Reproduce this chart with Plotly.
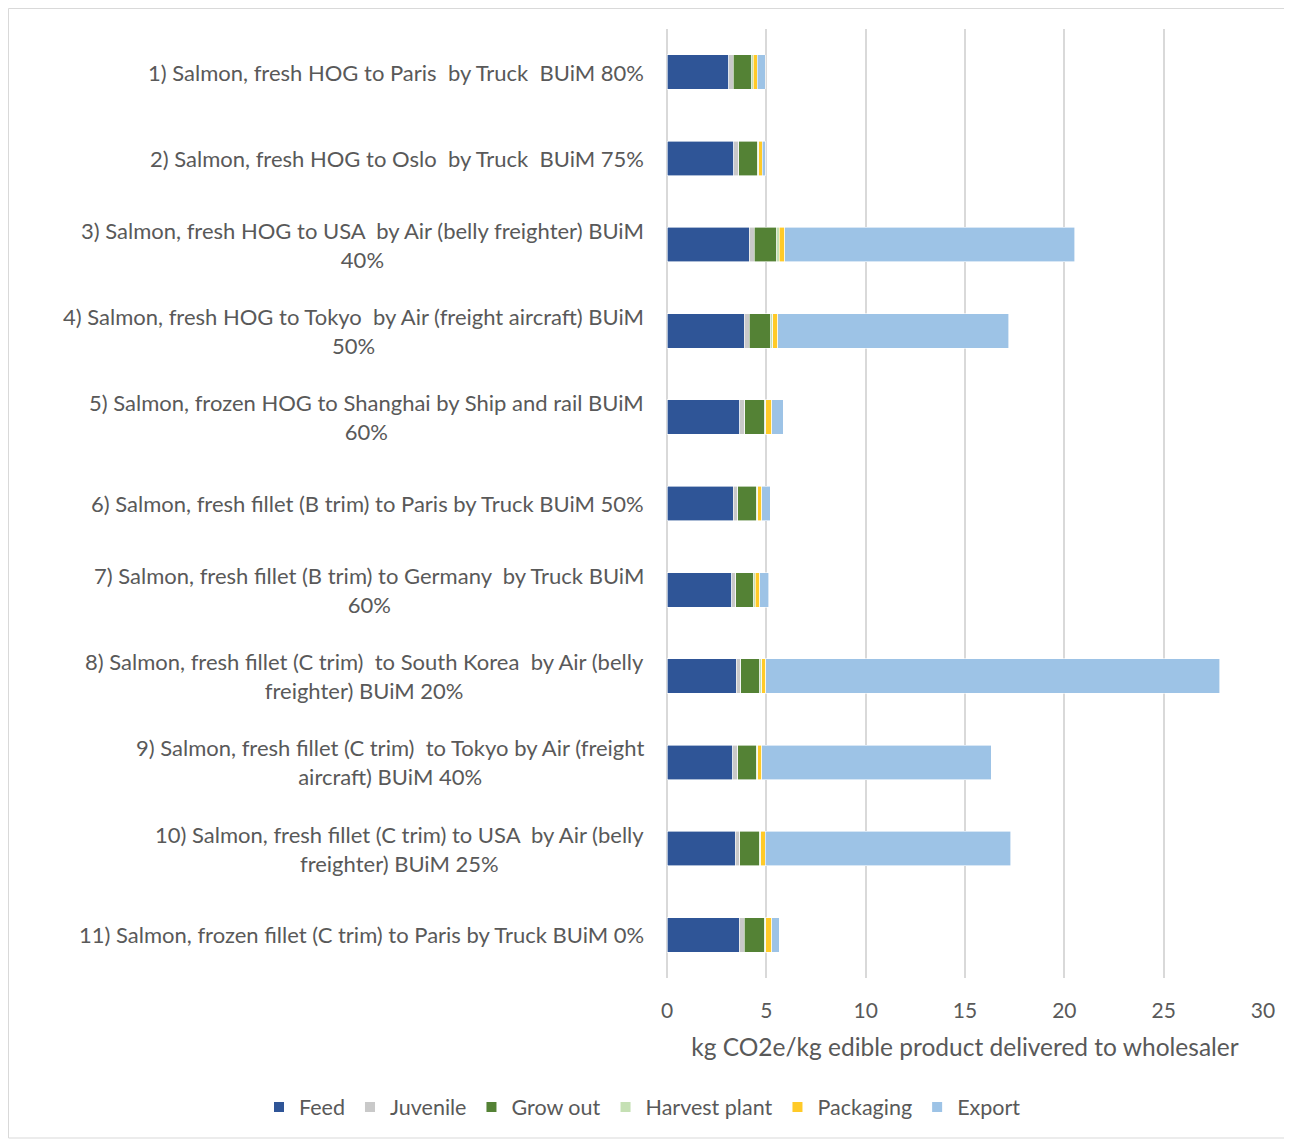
import plotly.graph_objects as go

categories = [
    "1) Salmon, fresh HOG to Paris  by Truck  BUiM 80%",
    "2) Salmon, fresh HOG to Oslo  by Truck  BUiM 75%",
    "3) Salmon, fresh HOG to USA  by Air (belly freighter) BUiM<br>40%",
    "4) Salmon, fresh HOG to Tokyo  by Air (freight aircraft) BUiM<br>50%",
    "5) Salmon, frozen HOG to Shanghai by Ship and rail BUiM<br>60%",
    "6) Salmon, fresh fillet (B trim) to Paris by Truck BUiM 50%",
    "7) Salmon, fresh fillet (B trim) to Germany  by Truck BUiM<br>60%",
    "8) Salmon, fresh fillet (C trim)  to South Korea  by Air (belly<br>freighter) BUiM 20%",
    "9) Salmon, fresh fillet (C trim)  to Tokyo by Air (freight<br>aircraft) BUiM 40%",
    "10) Salmon, fresh fillet (C trim) to USA  by Air (belly<br>freighter) BUiM 25%",
    "11) Salmon, frozen fillet (C trim) to Paris by Truck BUiM 0%",
]

feed = [3.12, 3.37, 4.14, 3.88, 3.67, 3.34, 3.26, 3.49, 3.32, 3.44, 3.64]
juvenile = [0.22, 0.24, 0.25, 0.25, 0.24, 0.23, 0.21, 0.22, 0.24, 0.23, 0.24]
grow_out = [0.92, 0.92, 1.14, 1.09, 1.02, 0.91, 0.89, 0.97, 0.92, 0.98, 1.02]
harvest_plant = [0.07, 0.10, 0.12, 0.10, 0.05, 0.08, 0.09, 0.09, 0.08, 0.06, 0.07]
packaging = [0.22, 0.17, 0.27, 0.25, 0.29, 0.22, 0.21, 0.21, 0.22, 0.24, 0.30]
export = [0.40, 0.15, 14.6, 11.64, 0.59, 0.42, 0.46, 22.85, 11.53, 12.36, 0.37]

series_names = ["Feed", "Juvenile", "Grow out", "Harvest plant", "Packaging", "Export"]
series_values = [feed, juvenile, grow_out, harvest_plant, packaging, export]
series_colors = ["#2F5597", "#C9C9C9", "#548235", "#C5E0B4", "#FFCA28", "#9DC3E6"]

x_ticks = [0, 5, 10, 15, 20, 25, 30]
x_title = "kg CO2e/kg edible product delivered to wholesaler"

OFF = 8  # page body margin offset
W, H = 1292 - OFF, 1140 - OFF
ML, MR, MT, MB = 667 - OFF, 29, 29 - OFF, 162
FONT = "Lato, 'Open Sans', sans-serif"
TXT = "#595959"

pw = W - ML - MR
ph = H - MT - MB

fig = go.Figure()
for name, vals, col in zip(series_names, series_values, series_colors):
    fig.add_trace(go.Bar(
        y=categories, x=vals, name=name, orientation="h",
        marker=dict(color=col, line=dict(color="white", width=0.6)),
        width=0.4,
    ))

for c in categories:
    fig.add_annotation(
        x=0, xref="paper", y=c, yref="y", text=c, showarrow=False,
        xanchor="right", yanchor="middle", align="center", xshift=-21,
        font=dict(family=FONT, size=22, color=TXT),
    )

fig.add_shape(
    type="rect", xref="paper", yref="paper",
    x0=(0.5 - ML) / pw, x1=(W - 2 - ML) / pw,
    y0=(H - MB - (H - 2)) / ph, y1=(H - MB - 0.5) / ph,
    line=dict(color="#D9D9D9", width=1), fillcolor="rgba(0,0,0,0)",
    layer="below",
)

legend_left = 259 - OFF
legend_cy = 1107 - OFF

fig.update_layout(
    width=W, height=H, barmode="stack",
    margin=dict(l=ML, r=MR, t=MT, b=MB),
    paper_bgcolor="white", plot_bgcolor="white",
    font=dict(family=FONT, size=20, color=TXT),
    bargap=0.6,
    xaxis=dict(
        range=[0, 30], tickvals=x_ticks, showgrid=True,
        gridcolor="#D9D9D9", gridwidth=1.5, zeroline=True,
        zerolinecolor="#D9D9D9", zerolinewidth=1.5, showline=False,
        tickfont=dict(size=21, color=TXT), ticks="", ticklabelstandoff=18,
        title=dict(text=x_title, font=dict(size=24.5, color=TXT), standoff=17),
    ),
    yaxis=dict(
        categoryorder="array", categoryarray=categories, autorange="reversed",
        showticklabels=False, showgrid=False, zeroline=False, ticks="",
    ),
    legend=dict(
        orientation="h", xref="paper", yref="paper",
        x=(legend_left - ML) / pw, xanchor="left",
        y=(H - MB - legend_cy) / ph, yanchor="middle",
        font=dict(size=21.5, color=TXT), traceorder="normal",
        itemsizing="constant",
    ),
    showlegend=True,
)

fig.write_html("out.html")
